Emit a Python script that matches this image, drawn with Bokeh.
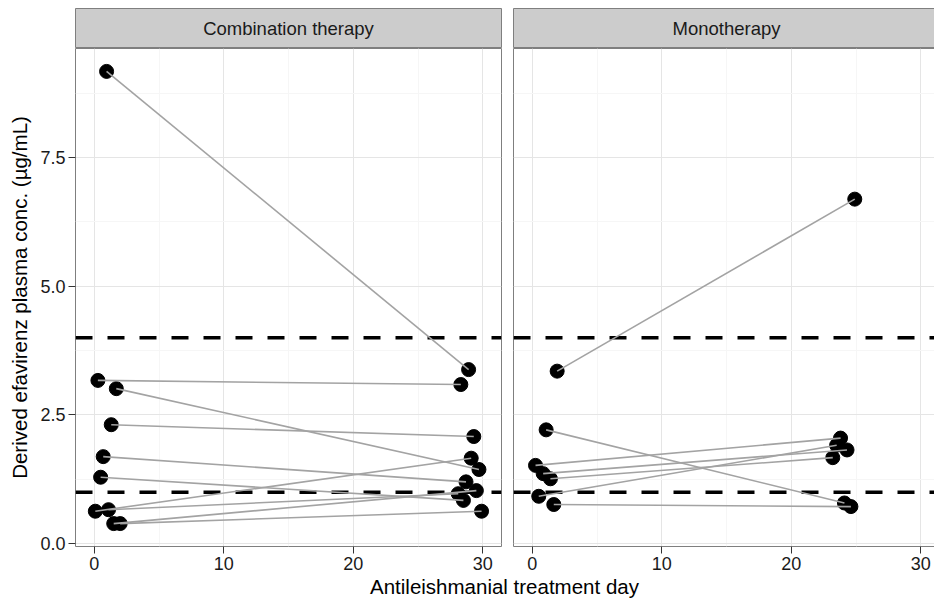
from bokeh.plotting import figure
from bokeh.models import (Range1d, FixedTicker, PrintfTickFormatter, Span,
                          Label, Div, ColumnDataSource)
from bokeh.layouts import row, column
from bokeh.embed import file_html
from bokeh.resources import INLINE

# ---------------- data ----------------
panel_titles = ["Combination therapy", "Monotherapy"]

combo_day_start = [0.95, 0.28, 1.70, 1.31, 0.69, 0.49, 0.08, 1.10, 1.50, 2.00]
combo_conc_start = [9.17, 3.17, 3.01, 2.31, 1.69, 1.29, 0.63, 0.66, 0.39, 0.39]
combo_day_end = [28.9, 28.3, 29.7, 29.3, 28.7, 28.5, 29.1, 28.1, 29.5, 29.9]
combo_conc_end = [3.38, 3.09, 1.44, 2.08, 1.20, 0.84, 1.66, 0.97, 1.03, 0.63]

mono_day_start = [1.92, 1.07, 0.25, 0.84, 1.40, 0.50, 1.66]
mono_conc_start = [3.35, 2.21, 1.52, 1.36, 1.26, 0.92, 0.76]
mono_day_end = [24.9, 24.1, 23.8, 24.3, 23.2, 23.5, 24.6]
mono_conc_end = [6.69, 0.79, 2.05, 1.82, 1.67, 1.91, 0.72]

reference_levels = [1, 4]
x_ticks = [0, 10, 20, 30]
x_minor = [5, 15, 25]
y_ticks = [0, 2.5, 5.0, 7.5]
y_minor = [1.25, 3.75, 6.25, 8.75]

x_title = "Antileishmanial treatment day"
y_title = "Derived efavirenz plasma conc. (\u00b5g/mL)"

# ---------------- style ----------------
FONT = "Liberation Sans"
X_LO, X_HI = -1.45, 31.44
Y_LO, Y_HI = -0.055, 9.615
LEFT_W = 426
RIGHT_W = 422
FRAME_H = 498
STRIP_H = 40
LEFT_PAD = 75
GAP = 11


def make_strip(title, first, frame_w):
    s = figure(
        output_backend="svg", toolbar_location=None,
        frame_width=frame_w, frame_height=STRIP_H,
        x_range=Range1d(0, frame_w / LEFT_W), y_range=Range1d(0, 1),
        x_axis_type=None, y_axis_type=None,
        min_border_left=LEFT_PAD if first else GAP,
        min_border_right=1 if first else 0,
        min_border_top=8, min_border_bottom=0,
        background_fill_color="#CCCCCC", border_fill_color="white",
    )
    s.grid.visible = False
    s.outline_line_color = "#7F7F7F"
    s.outline_line_width = 1
    s.add_layout(Label(x=0.5, y=0.5, text=title,
                       text_align="center", text_baseline="middle",
                       text_font=FONT, text_font_size="18.5px",
                       text_color="#1A1A1A"))
    return s


def make_panel(ds, cs, de, ce, first, frame_w, x_hi):
    p = figure(
        output_backend="svg", toolbar_location=None,
        frame_width=frame_w, frame_height=FRAME_H,
        x_range=Range1d(X_LO, x_hi), y_range=Range1d(Y_LO, Y_HI),
        min_border_left=LEFT_PAD if first else GAP,
        min_border_right=1 if first else 0,
        min_border_top=0, min_border_bottom=30,
        background_fill_color="white", border_fill_color="white",
    )
    p.outline_line_color = "#7F7F7F"
    p.outline_line_width = 1

    p.xaxis.ticker = FixedTicker(ticks=x_ticks, minor_ticks=x_minor)
    p.yaxis.ticker = FixedTicker(ticks=y_ticks, minor_ticks=y_minor)
    p.yaxis.formatter = PrintfTickFormatter(format="%.1f")
    for ax in (p.xaxis, p.yaxis):
        ax.axis_line_color = None
        ax.major_tick_line_color = "#333333"
        ax.major_tick_out = 7
        ax.major_tick_in = 0
        ax.minor_tick_line_color = None
        ax.major_label_text_font = FONT
        ax.major_label_text_font_size = "18px"
        ax.major_label_text_color = "#1A1A1A"
        ax.major_label_standoff = 3
    if first:
        p.yaxis.axis_label = y_title
        p.yaxis.axis_label_text_font = FONT
        p.yaxis.axis_label_text_font_size = "20.5px"
        p.yaxis.axis_label_text_font_style = "normal"
        p.yaxis.axis_label_text_color = "black"
        p.yaxis.axis_label_standoff = 6
    else:
        p.yaxis.visible = False

    p.xgrid.grid_line_color = "#E5E5E5"
    p.ygrid.grid_line_color = "#E5E5E5"
    p.xgrid.minor_grid_line_color = "#F6F6F6"
    p.ygrid.minor_grid_line_color = "#F6F6F6"

    for lv in reference_levels:
        p.add_layout(Span(location=lv, dimension="width", line_color="black",
                          line_width=3.5, line_dash="17 15", level="underlay"))

    src = ColumnDataSource(dict(x0=ds, y0=cs, x1=de, y1=ce))
    p.scatter(x="x0", y="y0", source=src, size=14, color="black")
    p.scatter(x="x1", y="y1", source=src, size=14, color="black")
    p.segment(x0="x0", y0="y0", x1="x1", y1="y1", source=src,
              line_color="#A3A3A3", line_width=1.6)
    return p


right_hi = X_LO + (X_HI - X_LO) * RIGHT_W / LEFT_W

s1 = make_strip(panel_titles[0], True, LEFT_W)
s2 = make_strip(panel_titles[1], False, RIGHT_W)
p1 = make_panel(combo_day_start, combo_conc_start,
                combo_day_end, combo_conc_end, True, LEFT_W, X_HI)
p2 = make_panel(mono_day_start, mono_conc_start,
                mono_day_end, mono_conc_end, False, RIGHT_W, right_hi)

xlab = Div(text=x_title, width=859, height=22, margin=(0, 0, 0, LEFT_PAD),
           styles={"text-align": "center", "font-family": FONT,
                   "font-size": "20.5px", "color": "black", "line-height": "22px"})

layout = column(row(column(s1, p1), column(s2, p2)), xlab)

open("out.html", "w").write(file_html(layout, INLINE))
